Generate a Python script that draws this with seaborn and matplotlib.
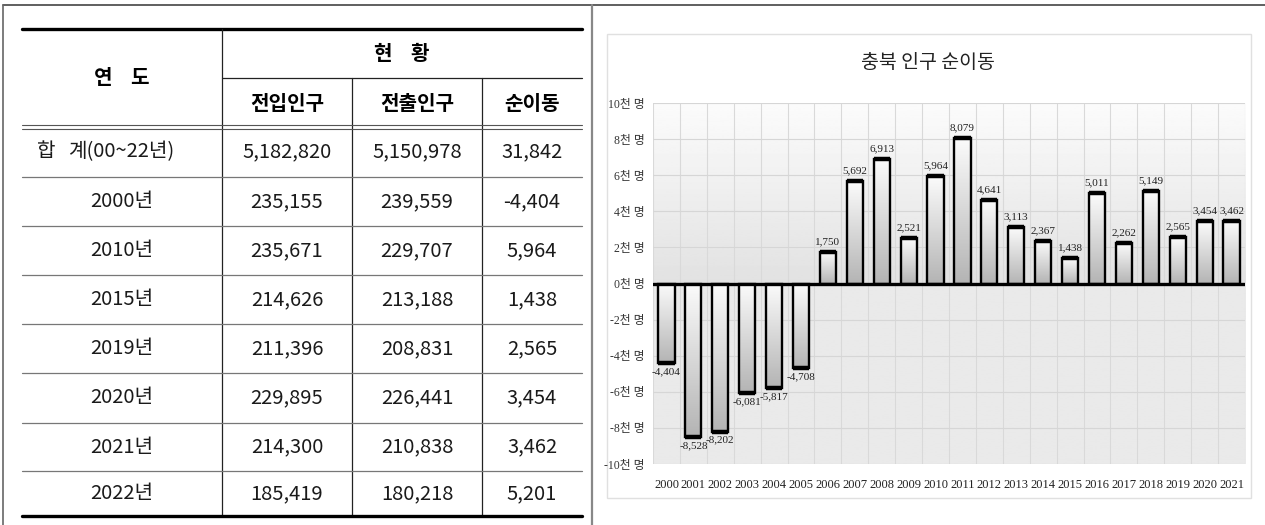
import numpy as np
import matplotlib
matplotlib.use("Agg")
import matplotlib.pyplot as plt
from matplotlib.colors import LinearSegmentedColormap
from matplotlib.patches import Rectangle
import seaborn as sns

# Table data
row_labels = ['합 계(00~22년)', '2000년', '2010년', '2015년', '2019년', '2020년', '2021년', '2022년']
move_in = [5182820, 235155, 235671, 214626, 211396, 229895, 214300, 185419]
move_out = [5150978, 239559, 229707, 213188, 208831, 226441, 210838, 180218]
net_move = [31842, -4404, 5964, 1438, 2565, 3454, 3462, 5201]
year_header = '연    도'
status_header = '현    황'
sub_headers = ['전입인구', '전출인구', '순이동']

# Chart data
chart_title = '충북 인구 순이동'
chart_years = ['2000', '2001', '2002', '2003', '2004', '2005', '2006', '2007', '2008', '2009', '2010',
               '2011', '2012', '2013', '2014', '2015', '2016', '2017', '2018', '2019', '2020', '2021']
chart_net = [-4404, -8528, -8202, -6081, -5817, -4708, 1750, 5692, 6913, 2521, 5964,
             8079, 4641, 3113, 2367, 1438, 5011, 2262, 5149, 2565, 3454, 3462]
y_ticks = [-10000, -8000, -6000, -4000, -2000, 0, 2000, 4000, 6000, 8000, 10000]

sns.set_style("white")
plt.rcParams['font.family'] = ['Noto Sans CJK KR', 'DejaVu Sans']
serif = ['Liberation Serif', 'Noto Sans CJK KR']

W, H = 1265, 525
fig = plt.figure(figsize=(W / 100, H / 100), dpi=100)

# Background layer in pixel coordinates
bg = fig.add_axes([0, 0, 1, 1])
bg.set_xlim(0, W)
bg.set_ylim(H, 0)
bg.axis('off')

# outer frame
bg.plot([3, W], [4.5, 4.5], color='#444444', lw=1.2)
bg.plot([3, 3], [4.5, H], color='#666666', lw=1.2)
bg.plot([592, 592], [4.5, H], color='#888888', lw=1.6)

# table grid
col_x = [22, 222, 352, 482, 582]
row_y = [127, 177, 226, 275, 324, 373, 423, 471, 516]
bg.plot([22, 582], [29, 29], color='black', lw=2.4)
bg.plot([222, 582], [78, 78], color='#222222', lw=0.9)
bg.plot([222, 222], [29, 516], color='#222222', lw=0.9)
for x in col_x[2:4]:
    bg.plot([x, x], [78, 516], color='#222222', lw=0.9)
bg.plot([22, 582], [125.3, 125.3], color='#555555', lw=0.8)
bg.plot([22, 582], [128.7, 128.7], color='#555555', lw=0.8)
for y in row_y[1:-1]:
    bg.plot([22, 582], [y, y], color='#777777', lw=0.9)
bg.plot([22, 582], [516, 516], color='black', lw=2.4)

# table header text
bg.text(122, 78, year_header, ha='center', va='center', fontsize=14.5, fontweight='bold', color='black')
bg.text(402, 54, status_header, ha='center', va='center', fontsize=14.5, fontweight='bold', color='black')
for i, h in enumerate(sub_headers):
    cx = (col_x[i + 1] + col_x[i + 2]) / 2
    bg.text(cx, 103, h, ha='center', va='center', fontsize=14.5, fontweight='bold', color='black')

# table rows
for r, lab in enumerate(row_labels):
    cy = (row_y[r] + row_y[r + 1]) / 2
    cells = [lab, f"{move_in[r]:,}", f"{move_out[r]:,}", f"{net_move[r]:,}"]
    for c, txt in enumerate(cells):
        cx = (col_x[c] + col_x[c + 1]) / 2
        if c == 0 and r == 0:
            # total row label is spread out: first syllable, then the rest
            first, rest = txt.split(' ', 1)
            bg.text(46, cy, first, ha='center', va='center', fontsize=14.5, color='#1a1a1a')
            bg.text(68, cy, rest, ha='left', va='center', fontsize=14.5, color='#1a1a1a')
            continue
        bg.text(cx, cy, txt, ha='center', va='center', fontsize=14.5, color='#1a1a1a')

# chart frame and title
bg.add_patch(Rectangle((607, 34), 644, 464, facecolor='white', edgecolor='#e0e0e0', lw=1))
bg.text(928, 63, chart_title, ha='center', va='center', fontsize=14, color='#222222')

# Chart axes
ax = fig.add_axes([653 / W, 1 - 464 / H, 592 / W, 361 / H])
sns.barplot(x=chart_years, y=chart_net, ax=ax, width=0.6, color='white',
            edgecolor='black', linewidth=1.7, zorder=3)

# plot-area background: gradient above zero, flat below
top = np.linspace(0.985, 0.885, 100)
bottom = np.full(100, 0.915)
grad_bg = np.concatenate([top, bottom])[:, None]
ax.imshow(grad_bg, cmap='gray', vmin=0, vmax=1, aspect='auto',
          extent=[-0.5, len(chart_years) - 0.5, -10000, 10000], zorder=0)

# gradient fill inside bars
bar_cmap = LinearSegmentedColormap.from_list('bar', ['#fbfbfb', '#b4b4b4'])
bar_grad = np.linspace(0, 1, 100)[:, None]
for p, v in zip(ax.patches, chart_net):
    x0, w = p.get_x(), p.get_width()
    y0, h = p.get_y(), p.get_height()
    ylo, yhi = min(y0, y0 + h), max(y0, y0 + h)
    p.set_facecolor('none')
    im = ax.imshow(bar_grad, cmap=bar_cmap, aspect='auto', extent=[x0, x0 + w, ylo, yhi], zorder=2)
    im.set_clip_path(p)
    ax.hlines(v, x0, x0 + w, color='black', lw=3.2, zorder=4)

# grid
for i in range(len(chart_years) + 1):
    ax.axvline(i - 0.5, color='#d9d9d9', lw=0.8, zorder=1)
for t in y_ticks:
    ax.axhline(t, color='#d6d6d6', lw=0.8, zorder=1)
ax.axhline(0, color='black', lw=2.4, zorder=5)

# data labels
for i, v in enumerate(chart_net):
    if v > 0:
        ax.annotate(f"{v:,}", (i, v), xytext=(0, 4), textcoords='offset points',
                    ha='center', va='bottom', fontsize=8, family=serif, color='#222222')
    else:
        ax.annotate(f"{v:,}", (i, v), xytext=(0, -3), textcoords='offset points',
                    ha='center', va='top', fontsize=8, family=serif, color='#222222')

ax.set_xlim(-0.5, len(chart_years) - 0.5)
ax.set_ylim(-10000, 10000)
ax.set_yticks(y_ticks)
ax.set_yticklabels([f"{t // 1000}천 명" for t in y_ticks], family=serif, fontsize=8.5, color='#333333')
ax.set_xticks(range(len(chart_years)))
ax.set_xticklabels(chart_years, family=serif, fontsize=9, color='#222222')
ax.tick_params(axis='y', length=0, pad=6)
ax.tick_params(axis='x', length=0, pad=11)
ax.set_xlabel('')
ax.set_ylabel('')
for s in ax.spines.values():
    s.set_visible(False)

fig.savefig('out.png', dpi=100)
